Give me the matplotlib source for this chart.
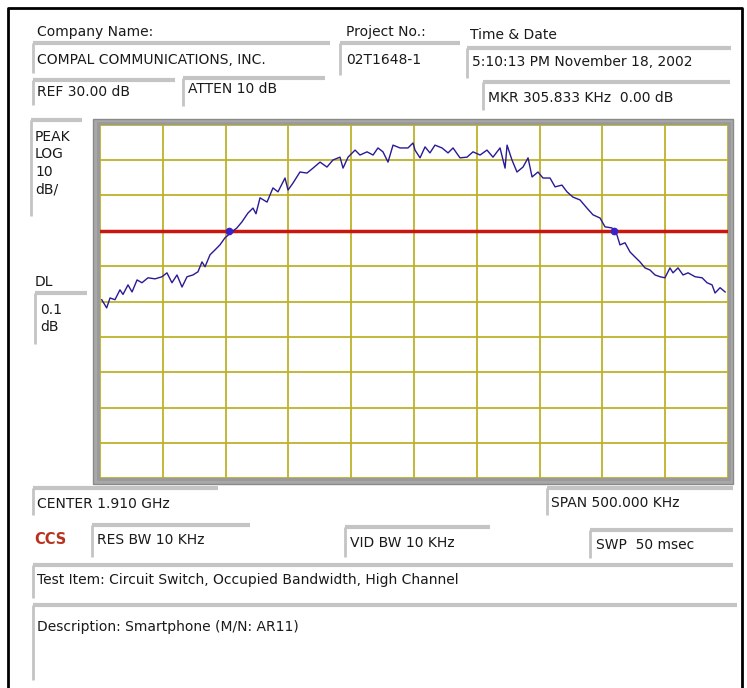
import matplotlib
matplotlib.use("Agg")
import matplotlib.pyplot as plt
from matplotlib.patches import Rectangle

# trace: offset from centre (kHz) and level (dB)
freq_khz = [-248.6, -244.7, -242.0, -238.1, -234.1, -231.7, -227.7, -224.5, -220.5, -216.6,
            -211.8, -206.2, -200.6, -196.7, -192.7, -188.7, -184.7, -180.7, -176.0, -172.0,
            -168.8, -166.4, -162.4, -158.4, -154.5, -150.5, -144.9, -141.0, -137.0, -132.2,
            -128.2, -125.8, -122.6, -117.0, -112.3, -108.3, -102.7, -100.3, -96.3, -90.8,
            -85.2, -80.4, -74.8, -69.3, -64.5, -58.9, -56.5, -52.5, -46.9, -43.0,
            -37.4, -32.6, -28.7, -24.7, -20.7, -16.7, -11.1, -4.8, -0.8, 0.8,
            4.8, 8.8, 12.7, 16.7, 22.3, 27.1, 31.1, 36.6, 42.2, 47.0,
            52.6, 58.1, 62.9, 68.5, 72.5, 74.1, 78.0, 82.0, 86.8, 90.8,
            94.0, 98.7, 102.7, 108.3, 112.3, 117.8, 121.8, 126.6, 132.2, 137.7,
            142.5, 148.1, 152.1, 157.6, 161.6, 164.0, 168.0, 172.0, 175.9, 179.9,
            183.9, 187.9, 191.9, 195.9, 199.8, 203.8, 206.2, 210.2, 214.2, 218.2,
            223.8, 229.4, 233.3, 237.3, 239.7, 243.7, 247.7]
level_db = [-19.5, -21.8, -19.0, -19.5, -16.7, -18.0, -15.3, -17.3, -13.9, -14.7,
            -13.3, -13.6, -13.0, -11.9, -14.7, -12.5, -15.9, -13.0, -12.5, -11.6,
            -8.8, -10.2, -6.8, -5.4, -4.0, -2.0, -0.3, 0.8, 2.5, 5.0,
            6.4, 4.8, 9.3, 8.1, 12.1, 11.0, 14.9, 11.5, 13.5, 16.6,
            16.3, 17.7, 19.4, 18.0, 20.0, 20.8, 17.7, 20.8, 22.8, 21.4,
            22.3, 21.4, 23.4, 22.3, 19.4, 24.2, 23.4, 23.4, 24.8, 22.8,
            20.6, 23.7, 22.0, 24.2, 23.4, 22.0, 23.4, 20.6, 20.8, 22.3,
            21.4, 22.8, 20.8, 23.4, 17.7, 24.2, 20.0, 16.6, 18.0, 20.6,
            15.2, 16.6, 14.9, 14.9, 12.4, 12.9, 11.0, 9.5, 8.7, 6.4,
            4.5, 3.6, 1.1, 0.8, -1.2, -4.0, -3.4, -6.0, -7.4, -8.8,
            -10.5, -11.1, -12.5, -13.0, -13.3, -10.5, -11.9, -10.5, -12.5, -11.9,
            -13.0, -13.3, -14.7, -15.3, -17.6, -16.1, -17.3]

marker_khz = [-146.9, 158.9]
marker_db = [0.0, 0.0]
display_line_db = 0.0

ref_db = 30
db_per_div = 10
span_khz = 500

W, H = 747, 688
fig = plt.figure(figsize=(W / 100, H / 100), dpi=100)
fig.patch.set_facecolor("white")

# overlay in pixel coordinates for the panel boxes and labels
ov = fig.add_axes([0, 0, 1, 1])
ov.set_xlim(0, W)
ov.set_ylim(H, 0)
ov.axis("off")

FS = 10
TXT = "#1a1a1a"
BEVEL = "#c4c4c4"


def box(x0, y0, x1, y1):
    # sunken field: grey top and left edge
    ov.plot([x0, x1], [y0, y0], color=BEVEL, lw=3, solid_capstyle="butt")
    ov.plot([x0, x0], [y0, y1], color=BEVEL, lw=2, solid_capstyle="butt")


def label(x, y, s, **kw):
    ov.text(x, y, s, fontsize=kw.pop("fontsize", FS), color=kw.pop("color", TXT),
            ha="left", va="center", **kw)


# outer frame
ov.plot([8, 8, 742, 742], [H, 8, 8, H], color="black", lw=2)

# header
label(37, 32, "Company Name:")
box(33, 43, 330, 73)
label(37, 60, "COMPAL COMMUNICATIONS, INC.")
label(346, 32, "Project No.:")
box(340, 43, 460, 75)
label(346, 60, "02T1648-1")
label(470, 35, "Time & Date")
box(467, 48, 731, 78)
label(472, 62, "5:10:13 PM November 18, 2002")
box(33, 80, 175, 105)
label(37, 92, "REF 30.00 dB")
box(183, 78, 325, 106)
label(188, 89, "ATTEN 10 dB")
box(483, 82, 730, 110)
label(488, 98, "MKR 305.833 KHz  0.00 dB")

# left side
box(31, 120, 82, 216)
for i, s in enumerate(["PEAK", "LOG", "10", "dB/"]):
    label(35, 137 + i * 17.5, s)
label(35, 282, "DL")
box(35, 293, 87, 344)
label(40, 310, "0.1")
label(40, 327, "dB")

# bottom
box(33, 488, 218, 515)
label(37, 504, "CENTER 1.910 GHz")
box(547, 488, 733, 515)
label(551, 503, "SPAN 500.000 KHz")
label(34, 540, "CCS", color="#b8321e", fontweight="bold", fontsize=10.5)
box(92, 525, 250, 557)
label(97, 540, "RES BW 10 KHz")
box(345, 527, 490, 557)
label(350, 543, "VID BW 10 KHz")
box(590, 530, 733, 558)
label(596, 545, "SWP  50 msec")
box(33, 565, 733, 598)
label(37, 580, "Test Item: Circuit Switch, Occupied Bandwidth, High Channel")
box(33, 605, 737, 680)
label(37, 627, "Description: Smartphone (M/N: AR11)")

# grey bezel around the screen
ov.add_patch(Rectangle((93, 119), 640, 365, facecolor="#a8a8a8", edgecolor="#8a8a8a", lw=1))
ov.add_patch(Rectangle((97, 122), 634, 359, facecolor="#9a9a9a", edgecolor="none"))

# screen
left, right, top, bottom = 100, 728, 124.6, 478.4
ax = fig.add_axes([left / W, 1 - bottom / H, (right - left) / W, (bottom - top) / H])
ax.set_facecolor("white")
ax.set_xlim(-span_khz / 2, span_khz / 2)
ax.set_ylim(ref_db - 10 * db_per_div, ref_db)
ax.set_xticks(range(-250, 251, 50))
ax.set_yticks(range(ref_db - 10 * db_per_div, ref_db + 1, db_per_div))
ax.tick_params(length=0, labelbottom=False, labelleft=False)
ax.grid(True, color="#bcb22a", lw=1.3)
for sp in ax.spines.values():
    sp.set_visible(False)

ax.axhline(display_line_db, color="#c8170f", lw=2.5, zorder=3)
ax.plot(freq_khz, level_db, color="#281a96", lw=1.0, zorder=4)
ax.plot(marker_khz, marker_db, "o", color="#3a22c8", ms=4.5, zorder=5)

fig.savefig("out.png", dpi=100, facecolor="white")
